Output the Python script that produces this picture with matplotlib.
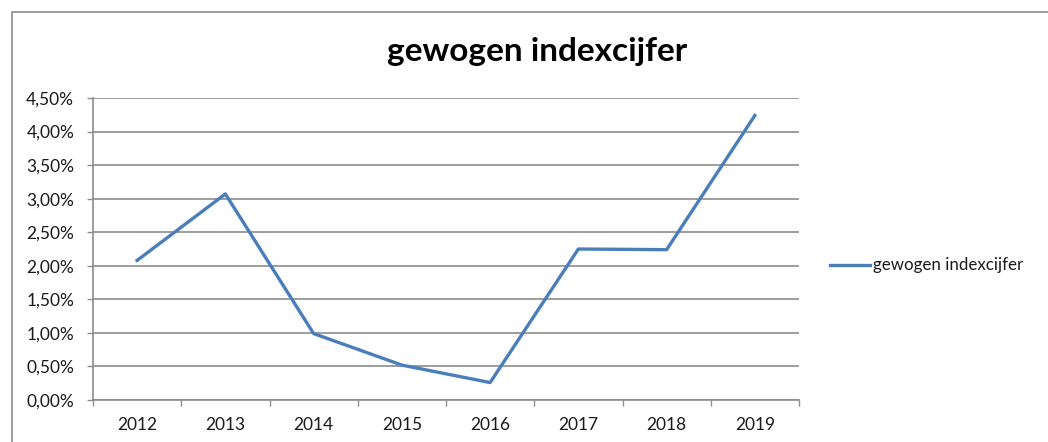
import matplotlib
matplotlib.use("Agg")
import matplotlib.pyplot as plt
from matplotlib.ticker import FuncFormatter, MultipleLocator
from matplotlib.patches import Rectangle
from matplotlib.lines import Line2D

# data (percent)
years = ["2012", "2013", "2014", "2015", "2016", "2017", "2018", "2019"]
values = [2.08, 3.07, 0.99, 0.52, 0.26, 2.25, 2.24, 4.24]
series_name = "gewogen indexcijfer"

plt.rcParams['font.family'] = ['Lato', 'DejaVu Sans']
grid_col = "#8c8c8c"
line_col = "#4a7ebb"
txt_col = "#1a1a1a"

fig = plt.figure(figsize=(10.48, 4.42), dpi=100)
ax = fig.add_axes([93/1048, 1-400/442, (799-93)/1048, (400-98)/442])

x = list(range(len(years)))
ax.plot(x, values, color=line_col, linewidth=2.4, solid_joinstyle='round')

ax.set_xlim(-0.5, len(years)-0.5)
ax.set_ylim(0, 4.5)
ax.yaxis.set_major_locator(MultipleLocator(0.5))
ax.yaxis.set_major_formatter(FuncFormatter(lambda v, p: f"{v:.2f}%".replace(".", ",")))
ax.set_xticks(x)
ax.set_xticklabels(years)
# tick marks between the categories, excel style
ax.set_xticks([i-0.5 for i in range(len(years)+1)], minor=True)
ax.tick_params(axis='x', which='major', length=0, labelsize=12.5, pad=12, labelcolor=txt_col)
ax.tick_params(axis='x', which='minor', length=4.5, color=grid_col, width=1)
ax.tick_params(axis='y', length=4.5, color=grid_col, width=1, labelsize=12.5, pad=9, labelcolor=txt_col)

ax.grid(axis='y', color=grid_col, linewidth=1.2)
ax.set_axisbelow(True)
for s in ['top', 'right']:
    ax.spines[s].set_visible(False)
for s in ['left', 'bottom']:
    ax.spines[s].set_color(grid_col)
    ax.spines[s].set_linewidth(1.2)

fig.text(537/1048, 1-52/442, "gewogen indexcijfer", ha='center', va='center',
         fontsize=24, fontweight='bold', color='black')

# legend drawn by hand at the right
fig.add_artist(Line2D([830/1048, 870/1048], [1-265/442, 1-265/442], color=line_col,
                      linewidth=2.4, transform=fig.transFigure))
fig.text(873/1048, 1-265/442, series_name, ha='left', va='center', fontsize=12.2, color=txt_col)

# outer chart border
fig.add_artist(Rectangle((12/1048, -0.2), 1.2, 1-12/442+0.2, fill=False,
                         edgecolor='#8c8c8c', linewidth=1.2, transform=fig.transFigure))

fig.savefig("out.png", dpi=100, facecolor='white')
